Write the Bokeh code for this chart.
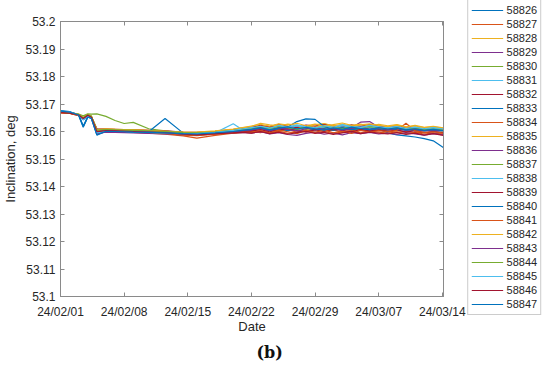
import pandas as pd
from bokeh.plotting import figure
from bokeh.layouts import row
from bokeh.models import (FixedTicker, DatetimeTickFormatter, CustomJSTickFormatter, Legend,
                          LegendItem, LinearAxis, DatetimeAxis, Title, Range1d)
from bokeh.embed import file_html
from bokeh.resources import INLINE

start_date = "2024-02-01"
# sample times, days after start_date
days = [0, 1, 2, 2.5, 3, 3.4, 4, 5, 6, 7, 8, 9.7, 11.5, 13.5, 15, 17, 19, 20, 21, 22,
        23, 24, 25, 26, 27, 28, 29, 30, 31, 32, 33, 34, 35, 36, 37, 38, 39, 40, 41, 42.1]

x_tick_dates = ["2024-02-01", "2024-02-08", "2024-02-15", "2024-02-22",
                "2024-02-29", "2024-03-07", "2024-03-14"]
y_ticks = [53.1, 53.11, 53.12, 53.13, 53.14, 53.15, 53.16, 53.17, 53.18, 53.19, 53.2]

sat_ids = ["58826", "58827", "58828", "58829", "58830", "58831", "58832", "58833",
           "58834", "58835", "58836", "58837", "58838", "58839", "58840", "58841",
           "58842", "58843", "58844", "58845", "58846", "58847"]

inc_58826 = [53.1675, 53.1672, 53.1662, 53.1647, 53.1659, 53.1652,
             53.1602, 53.1606, 53.1605, 53.1604, 53.1603, 53.16, 53.1597, 53.1593, 53.1591, 53.1596, 53.1602, 53.1605,
             53.1609, 53.1614, 53.1607, 53.1616, 53.1611, 53.1619, 53.1613, 53.1608, 53.1615, 53.161, 53.1617, 53.1612, 53.1606, 53.1613, 53.1609,
             53.1595, 53.1588, 53.1584, 53.158, 53.1574, 53.1566, 53.1542]
inc_58827 = [53.1668, 53.1667, 53.1658, 53.1644, 53.1656, 53.1649,
             53.1596, 53.1602, 53.1601, 53.1599, 53.1597, 53.1594, 53.159, 53.1584, 53.1576, 53.1586, 53.1594, 53.1597,
             53.1601, 53.1596, 53.1605, 53.16, 53.1607, 53.1598, 53.1604, 53.1609, 53.1601, 53.1606, 53.1597, 53.1603, 53.1608, 53.16, 53.1605,
             53.1602, 53.1597, 53.1601, 53.1595, 53.1598, 53.1593, 53.1591]
inc_58828 = [53.1671, 53.1669, 53.1661, 53.165, 53.1662, 53.1655,
             53.1608, 53.161, 53.1608, 53.1607, 53.1606, 53.1604, 53.1601, 53.1597, 53.1595, 53.1599, 53.1605, 53.1609,
             53.1614, 53.162, 53.1615, 53.1623, 53.1617, 53.1612, 53.1621, 53.1616, 53.1625, 53.1619, 53.1613, 53.1622, 53.1617, 53.1624, 53.1618,
             53.1614, 53.1619, 53.1612, 53.1616, 53.161, 53.1613, 53.1608]
inc_58829 = [53.1672, 53.167, 53.166, 53.1646, 53.1657, 53.165,
             53.16, 53.1603, 53.1602, 53.1601, 53.16, 53.1598, 53.1595, 53.159, 53.1588, 53.1593, 53.1598, 53.1601,
             53.1604, 53.1609, 53.1602, 53.1607, 53.1612, 53.1605, 53.1601, 53.1608, 53.1603, 53.161, 53.1606, 53.1614, 53.1634, 53.1636, 53.1615,
             53.1609, 53.1604, 53.1608, 53.1602, 53.1606, 53.16, 53.1596]
inc_58830 = [53.167, 53.1668, 53.1663, 53.1657, 53.1664, 53.1663,
             53.1664, 53.1655, 53.164, 53.1629, 53.1633, 53.161, 53.1602, 53.1596, 53.1594, 53.1598, 53.1603, 53.1606,
             53.1611, 53.1606, 53.1614, 53.1609, 53.1604, 53.1612, 53.1608, 53.1615, 53.161, 53.1605, 53.1613, 53.1607, 53.1611, 53.1616, 53.1609,
             53.1612, 53.1607, 53.161, 53.1604, 53.1608, 53.1603, 53.1605]
inc_58831 = [53.1673, 53.167, 53.1659, 53.1642, 53.1655, 53.1647,
             53.1594, 53.1601, 53.16, 53.1599, 53.1598, 53.1596, 53.1593, 53.1589, 53.159, 53.1596, 53.1603, 53.1608,
             53.1612, 53.1617, 53.161, 53.1619, 53.1614, 53.1621, 53.1616, 53.1611, 53.1618, 53.1613, 53.1622, 53.1615, 53.162, 53.1614, 53.1617,
             53.1612, 53.1616, 53.1609, 53.1613, 53.1607, 53.161, 53.1606]
inc_58832 = [53.167, 53.1668, 53.1661, 53.1649, 53.1661, 53.1654,
             53.161, 53.1609, 53.1608, 53.1607, 53.1606, 53.1604, 53.1602, 53.1598, 53.1597, 53.1601, 53.1607, 53.1612,
             53.1616, 53.1622, 53.1618, 53.1626, 53.1619, 53.1614, 53.1623, 53.162, 53.1627, 53.1621, 53.1616, 53.1624, 53.1619, 53.1625, 53.162,
             53.1615, 53.1618, 53.1612, 53.1614, 53.1609, 53.1611, 53.1607]
inc_58833 = [53.1674, 53.1671, 53.1658, 53.1615, 53.1652, 53.1648,
             53.1588, 53.16, 53.16, 53.1599, 53.1598, 53.1599, 53.1647, 53.1594, 53.1592, 53.1596, 53.1601, 53.1604,
             53.1607, 53.1612, 53.1605, 53.161, 53.1603, 53.1609, 53.1614, 53.1606, 53.1611, 53.1604, 53.161, 53.1607, 53.1613, 53.1605, 53.1609,
             53.1606, 53.161, 53.1604, 53.1608, 53.1602, 53.1605, 53.1601]
inc_58834 = [53.1669, 53.1667, 53.166, 53.1647, 53.1659, 53.1651,
             53.1603, 53.1605, 53.1604, 53.1603, 53.1601, 53.1598, 53.1595, 53.159, 53.1587, 53.1591, 53.1595, 53.1597,
             53.1599, 53.1603, 53.1595, 53.1601, 53.1593, 53.1598, 53.1604, 53.1596, 53.16, 53.1592, 53.1599, 53.1603, 53.1595, 53.1601, 53.1598,
             53.1594, 53.1599, 53.1592, 53.1597, 53.1591, 53.1595, 53.1589]
inc_58835 = [53.1672, 53.167, 53.1662, 53.1651, 53.1663, 53.1656,
             53.1606, 53.1608, 53.1607, 53.1606, 53.1605, 53.1603, 53.1601, 53.1598, 53.1597, 53.1601, 53.1608, 53.1613,
             53.1618, 53.163, 53.1624, 53.162, 53.1627, 53.1622, 53.1617, 53.1625, 53.1629, 53.1621, 53.1626, 53.1619, 53.1624, 53.1628, 53.1622,
             53.1618, 53.1623, 53.1616, 53.162, 53.1614, 53.1617, 53.1612]
inc_58836 = [53.1671, 53.1669, 53.1659, 53.1644, 53.1656, 53.1648,
             53.1592, 53.1598, 53.1597, 53.1596, 53.1595, 53.1593, 53.1591, 53.1588, 53.1589, 53.1592, 53.1595, 53.1597,
             53.1594, 53.1599, 53.1591, 53.1596, 53.1589, 53.1586, 53.1593, 53.1598, 53.159, 53.1595, 53.1588, 53.1596, 53.1592, 53.1597, 53.1591,
             53.1594, 53.1589, 53.1596, 53.1591, 53.1587, 53.1592, 53.1588]
inc_58837 = [53.167, 53.1668, 53.1661, 53.1648, 53.166, 53.1653,
             53.1604, 53.1607, 53.1606, 53.1605, 53.1604, 53.1602, 53.1599, 53.1594, 53.1593, 53.1597, 53.1603, 53.1607,
             53.161, 53.1615, 53.1609, 53.1617, 53.1612, 53.1607, 53.1616, 53.1611, 53.1618, 53.1613, 53.1608, 53.1615, 53.161, 53.1617, 53.1612,
             53.1609, 53.1614, 53.1608, 53.1612, 53.1606, 53.161, 53.1605]
inc_58838 = [53.1673, 53.1671, 53.166, 53.1645, 53.1657, 53.165,
             53.1597, 53.1602, 53.1601, 53.16, 53.1599, 53.1597, 53.1595, 53.1591, 53.159, 53.1595, 53.1628, 53.1606,
             53.1611, 53.1616, 53.1609, 53.1619, 53.1613, 53.162, 53.1615, 53.161, 53.1618, 53.1612, 53.1621, 53.1614, 53.1617, 53.1611, 53.1616,
             53.1613, 53.1618, 53.161, 53.1614, 53.1608, 53.1612, 53.1607]
inc_58839 = [53.1669, 53.1667, 53.1659, 53.1646, 53.1658, 53.1651,
             53.1598, 53.1603, 53.1602, 53.1601, 53.16, 53.1597, 53.1594, 53.1589, 53.1587, 53.1591, 53.1596, 53.1599,
             53.1602, 53.1607, 53.1599, 53.1605, 53.161, 53.1603, 53.1598, 53.1606, 53.1601, 53.1608, 53.1604, 53.1599, 53.1607, 53.1602, 53.1605,
             53.1601, 53.1606, 53.1598, 53.1603, 53.1596, 53.16, 53.1595]
inc_58840 = [53.1674, 53.1672, 53.1661, 53.162, 53.1654, 53.1649,
             53.1596, 53.1602, 53.1601, 53.16, 53.1599, 53.1597, 53.1595, 53.1592, 53.1592, 53.1596, 53.1601, 53.1605,
             53.1608, 53.1613, 53.1606, 53.1611, 53.1616, 53.1636, 53.1646, 53.1644, 53.1618, 53.1609, 53.1614, 53.1607, 53.1612, 53.1608, 53.1613,
             53.161, 53.1606, 53.1611, 53.1605, 53.1609, 53.1603, 53.1606]
inc_58841 = [53.1668, 53.1666, 53.1658, 53.1646, 53.1657, 53.165,
             53.1601, 53.1604, 53.1603, 53.1602, 53.16, 53.1597, 53.1593, 53.1587, 53.1585, 53.159, 53.1595, 53.1598,
             53.1596, 53.1602, 53.1594, 53.1605, 53.1599, 53.1592, 53.1603, 53.1597, 53.1606, 53.1595, 53.1601, 53.1593, 53.1604, 53.1598, 53.1603,
             53.1599, 53.1604, 53.163, 53.1602, 53.1596, 53.1599, 53.1594]
inc_58842 = [53.1671, 53.1669, 53.1661, 53.1649, 53.1661, 53.1654,
             53.1607, 53.1609, 53.1608, 53.1607, 53.1606, 53.1603, 53.1601, 53.1597, 53.1598, 53.1602, 53.1609, 53.1614,
             53.162, 53.1626, 53.1619, 53.1628, 53.1623, 53.163, 53.1621, 53.1627, 53.1618, 53.1625, 53.1631, 53.1622, 53.1627, 53.162, 53.1626,
             53.1621, 53.1625, 53.1617, 53.1622, 53.1615, 53.1619, 53.1613]
inc_58843 = [53.1672, 53.167, 53.166, 53.1645, 53.1658, 53.1651,
             53.16, 53.1604, 53.1603, 53.1602, 53.1601, 53.1599, 53.1596, 53.1591, 53.159, 53.1594, 53.1599, 53.1603,
             53.1606, 53.1611, 53.1604, 53.1613, 53.1608, 53.1602, 53.161, 53.1615, 53.1607, 53.1612, 53.1605, 53.1611, 53.1616, 53.1608, 53.1612,
             53.1607, 53.1611, 53.1605, 53.1609, 53.1603, 53.1606, 53.1601]
inc_58844 = [53.167, 53.1668, 53.1662, 53.165, 53.1662, 53.1656,
             53.1605, 53.1607, 53.1606, 53.1605, 53.1604, 53.1602, 53.16, 53.1596, 53.1595, 53.1598, 53.1604, 53.1608,
             53.1612, 53.1617, 53.161, 53.1619, 53.1614, 53.1609, 53.1618, 53.1613, 53.162, 53.1615, 53.1611, 53.1617, 53.1613, 53.1619, 53.1614,
             53.161, 53.1615, 53.1608, 53.1613, 53.1607, 53.1611, 53.1606]
inc_58845 = [53.1673, 53.1671, 53.1659, 53.1643, 53.1655, 53.1648,
             53.1595, 53.1602, 53.1601, 53.16, 53.1599, 53.1597, 53.1595, 53.1591, 53.1592, 53.1597, 53.1604, 53.1609,
             53.1614, 53.1619, 53.1612, 53.1622, 53.1616, 53.1624, 53.1617, 53.1613, 53.1621, 53.1615, 53.1625, 53.1618, 53.1614, 53.1622, 53.1617,
             53.1613, 53.1618, 53.1611, 53.1616, 53.161, 53.1614, 53.1609]
inc_58846 = [53.1669, 53.1667, 53.166, 53.1647, 53.1659, 53.1652,
             53.1599, 53.1603, 53.1602, 53.1601, 53.16, 53.1598, 53.1596, 53.159, 53.1588, 53.1592, 53.1595, 53.1597,
             53.1594, 53.16, 53.1592, 53.1598, 53.159, 53.1596, 53.1601, 53.1593, 53.1597, 53.1589, 53.1595, 53.16, 53.1592, 53.1598, 53.1594,
             53.1591, 53.1596, 53.1589, 53.1594, 53.1587, 53.1592, 53.1586]
inc_58847 = [53.1674, 53.1671, 53.166, 53.1618, 53.1653, 53.1647,
             53.1587, 53.1601, 53.16, 53.1599, 53.1598, 53.1597, 53.1595, 53.1592, 53.1591, 53.1595, 53.16, 53.1604,
             53.1608, 53.1614, 53.1606, 53.1612, 53.1617, 53.1609, 53.1615, 53.161, 53.1605, 53.1613, 53.1608, 53.1616, 53.1611, 53.1607, 53.1614,
             53.1609, 53.1613, 53.1606, 53.161, 53.1604, 53.1608, 53.1603]

series = [inc_58826, inc_58827, inc_58828, inc_58829, inc_58830, inc_58831, inc_58832,
          inc_58833, inc_58834, inc_58835, inc_58836, inc_58837, inc_58838, inc_58839,
          inc_58840, inc_58841, inc_58842, inc_58843, inc_58844, inc_58845, inc_58846,
          inc_58847]

colors = ["#0072BD", "#D95319", "#EDB120", "#7E2F8E", "#77AC30", "#4DBEEE", "#A2142F"]

FONT = "Liberation Sans"
TXT = "#262626"
FRAME = "#8a8a8a"

t0 = pd.Timestamp(start_date)
times = [t0 + pd.Timedelta(days=d) for d in days]
x_end = pd.Timestamp(x_tick_dates[-1]) + pd.Timedelta(hours=3)

p = figure(x_axis_type="datetime", frame_width=383, frame_height=275,
           x_range=Range1d(t0, x_end), y_range=Range1d(y_ticks[0], y_ticks[-1]),
           output_backend="svg", toolbar_location=None,
           min_border_left=52, min_border_right=24, min_border_top=21, min_border_bottom=66,
           background_fill_color="white", border_fill_color="white")

p.xgrid.grid_line_color = None
p.ygrid.grid_line_color = None
p.outline_line_color = FRAME
p.outline_line_width = 1

x_tick_ms = [pd.Timestamp(d).value / 1e6 for d in x_tick_dates]
fmt = "%y/%m/%d"
xfmt = DatetimeTickFormatter(days=fmt, months=fmt, years=fmt, hours=fmt, minutes=fmt,
                             hourmin=fmt, seconds=fmt, minsec=fmt, milliseconds=fmt,
                             microseconds=fmt)
yfmt = CustomJSTickFormatter(code="return String(Math.round(tick*100)/100);")
blank = CustomJSTickFormatter(code="return '';")

for i, (sid, vals) in enumerate(zip(sat_ids, series)):
    p.line(times, vals, line_color=colors[i % len(colors)], line_width=1.2)

def style_axis(ax):
    ax.axis_line_color = FRAME
    ax.major_tick_line_color = FRAME
    ax.major_tick_in = 4
    ax.major_tick_out = 0
    ax.minor_tick_line_color = None
    ax.major_label_text_font = FONT
    ax.major_label_text_font_size = "12px"
    ax.major_label_text_color = TXT
    ax.axis_label_text_font = FONT
    ax.axis_label_text_font_size = "13px"
    ax.axis_label_text_font_style = "normal"
    ax.axis_label_text_color = TXT

xa = p.xaxis[0]
xa.ticker = FixedTicker(ticks=x_tick_ms)
xa.formatter = xfmt
style_axis(xa)
xa.major_label_standoff = 8
xa.axis_label = "Date"
xa.axis_label_standoff = -3

ya = p.yaxis[0]
ya.ticker = FixedTicker(ticks=y_ticks)
ya.formatter = yfmt
style_axis(ya)
ya.major_label_standoff = 5
ya.axis_label = "Inclination, deg"
ya.axis_label_standoff = 4

ra = LinearAxis(ticker=FixedTicker(ticks=y_ticks), formatter=blank)
style_axis(ra)
ra.major_label_standoff = 0
p.add_layout(ra, "right")

ta = DatetimeAxis(ticker=FixedTicker(ticks=x_tick_ms), formatter=blank)
style_axis(ta)
ta.major_label_standoff = 0
p.add_layout(ta, "above")

cap = Title(text="(b)", align="left", text_font="DejaVu Serif", text_font_size="16px",
            text_font_style="bold", text_color="#111111", offset=196, standoff=9)
p.add_layout(cap, "below")

# legend panel to the right of the axes; its lines use the same series, out of its view
lg = figure(width=77, height=362, x_range=Range1d(0, 1), y_range=Range1d(0, 1),
            x_axis_location=None, y_axis_location=None,
            output_backend="svg", toolbar_location=None,
            min_border_left=73, min_border_right=0, min_border_top=0, min_border_bottom=44,
            outline_line_color=None, background_fill_color="white", border_fill_color="white")
lg.xgrid.grid_line_color = None
lg.ygrid.grid_line_color = None

items = []
for i, (sid, vals) in enumerate(zip(sat_ids, series)):
    r = lg.line(days, vals, line_color=colors[i % len(colors)], line_width=1.2)
    items.append(LegendItem(label=sid, renderers=[r]))

legend = Legend(items=items, location="center",
                label_text_font=FONT, label_text_font_size="11px", label_text_color=TXT,
                glyph_width=32, glyph_height=14, label_height=14,
                label_standoff=3, spacing=0, padding=3, margin=0,
                border_line_color="#9a9a9a", border_line_width=1,
                background_fill_color="white", background_fill_alpha=1)
lg.add_layout(legend, "left")

layout = row(p, lg)
open("out.html", "w").write(file_html(layout, INLINE))
